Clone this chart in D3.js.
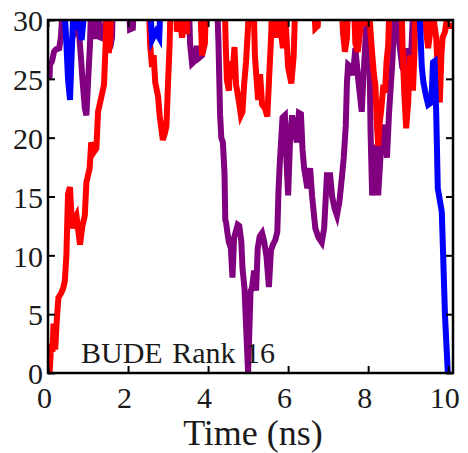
<!DOCTYPE html>
<html>
  <head>
    <meta charset="utf-8">
    <title>BUDE Rank 16</title>
    <script src="https://d3js.org/d3.v7.min.js"></script>
    <style>
      body { margin: 0; background: #fff; }
      text { font-family: "Liberation Serif", "Times New Roman", serif; fill: #1a1a1a; }
    </style>
  </head>
  <body>

<svg id="rank-chart"></svg>

<script>

// values (time in ns, rank); values above 30 leave the plot
let redTime = [0.04, 0.08, 0.11, 0.14, 0.18, 0.22, 0.26, 0.33, 0.38, 0.42, 0.46, 0.5, 0.55, 0.6, 0.65, 0.71, 0.76, 0.8, 0.86, 0.92, 0.96, 1.04, 1.08, 1.15, 1.21, 1.25, 1.33, 1.4, 1.44, 1.47, 1.52, 1.56, 1.6, 2.5, 2.55, 2.6, 2.64, 2.68, 2.75, 2.79, 2.87, 2.93, 2.96, 3.0, 3.04, 3.08, 3.2, 3.22, 3.28, 3.35, 3.42, 3.47, 3.5, 3.78, 3.85, 3.92, 3.97, 4.4, 4.44, 4.47, 4.52, 4.56, 4.6, 4.66, 4.7, 4.76, 4.82, 4.86, 4.9, 4.95, 5.0, 5.04, 5.12, 5.17, 5.2, 5.25, 5.3, 5.35, 5.42, 5.48, 5.52, 5.58, 5.62, 5.7, 5.75, 5.82, 5.87, 5.92, 6.0, 6.08, 6.14, 6.2, 6.6, 6.68, 6.74, 6.8, 7.3, 7.37, 7.42, 7.47, 7.52, 7.62, 7.68, 7.74, 7.8, 7.86, 7.9, 7.95, 8.02, 8.08, 8.14, 8.18, 8.22, 8.25, 8.28, 8.33, 8.38, 8.42, 8.46, 8.5, 8.56, 8.82, 8.86, 8.9, 8.95, 9.0, 9.04, 9.08, 9.12, 9.16, 9.2, 9.4, 9.45, 9.5, 9.55, 9.6, 9.62, 9.7, 9.76, 9.79, 9.83, 9.86, 9.92, 9.96, 10.0, 10.1];
let redRank = [0, 2.5, 1.8, 4.2, 2.0, 4.5, 6.4, 6.8, 7.2, 7.8, 10, 15.2, 15.8, 12.3, 13.0, 13.4, 12.0, 10.9, 12.5, 13.4, 16.2, 17.4, 19.6, 18.8, 19.1, 22.2, 23.4, 24.5, 28, 31, 27.2, 28.5, 34, 34, 28, 26, 27, 24.7, 23.5, 21.9, 19.8, 20.5, 21, 24.7, 28, 34, 34, 29, 30.5, 28.5, 30.5, 28.8, 34, 34, 27, 28, 34, 34, 28, 24.9, 24, 26.5, 25, 27.7, 24.5, 23.3, 21.9, 22.2, 24.5, 26.5, 29.5, 34, 34, 27, 25.5, 23.2, 25.4, 22.8, 22.5, 21.8, 24.7, 29, 34, 28.5, 30.5, 29, 27.6, 31, 26, 24.6, 27, 34, 34, 29.3, 29.5, 34, 34, 29, 27.3, 28.5, 34, 34, 28, 27.3, 29, 34, 31, 29.5, 31, 28, 25.5, 24.5, 21, 19.3, 21, 22.5, 24.5, 23.8, 26.5, 27.8, 34, 34, 27.6, 24, 20.8, 23, 27, 25.5, 24, 27.5, 34, 34, 29, 27.6, 29, 30.5, 30.5, 28.5, 24, 23, 27, 28.5, 29, 30, 29.5, 29.5];

let purpleTime = [0, 0.04, 0.05, 0.1, 0.15, 0.2, 0.28, 0.32, 0.36, 0.4, 0.6, 0.68, 0.76, 0.82, 0.86, 0.92, 0.96, 1.0, 1.05, 1.1, 1.15, 1.2, 1.26, 1.32, 1.4, 1.46, 1.55, 1.6, 1.64, 2.0, 2.05, 2.12, 2.18, 3.5, 3.55, 3.6, 3.66, 3.72, 3.78, 3.85, 3.9, 4.2, 4.26, 4.3, 4.33, 4.37, 4.41, 4.43, 4.45, 4.48, 4.52, 4.57, 4.61, 4.65, 4.7, 4.74, 4.78, 4.83, 4.86, 4.91, 5.0, 5.06, 5.1, 5.15, 5.2, 5.24, 5.29, 5.35, 5.4, 5.46, 5.52, 5.57, 5.62, 5.68, 5.73, 5.76, 5.79, 5.86, 5.92, 5.96, 6.0, 6.05, 6.1, 6.16, 6.22, 6.27, 6.32, 6.36, 6.4, 6.48, 6.55, 6.6, 6.68, 6.76, 6.84, 6.9, 6.97, 7.05, 7.1, 7.16, 7.22, 7.28, 7.34, 7.39, 7.44, 7.47, 7.5, 7.57, 7.62, 7.68, 7.76, 7.84, 7.88, 7.95, 8.0, 8.03, 8.06, 8.1, 8.16, 8.2, 8.25, 8.32, 8.4, 8.47, 8.52, 8.6, 8.66, 8.72, 8.78, 8.85, 8.95, 9.0, 9.06, 9.12, 9.18, 10.1];
let purpleRank = [25, 25.2, 26.2, 26.5, 27.3, 27.5, 27.6, 28.5, 30.5, 34, 34, 29, 29.5, 27, 25, 22.5, 21.9, 24.7, 28, 34, 29.5, 28.4, 30.5, 28.5, 28.4, 30.5, 27.6, 28.5, 34, 34, 29.2, 29.3, 34, 34, 28, 26.3, 26.5, 27.8, 26.8, 27, 34, 34, 28, 22, 20, 19.6, 17, 13, 12.8, 12, 11.1, 10.6, 8.1, 11.5, 12.1, 12.6, 12.5, 11.2, 8.9, 7.2, 0, 6.9, 7.3, 8.7, 7, 10.6, 11.6, 11.9, 11.2, 9.9, 7.3, 10.4, 10.9, 11.3, 12, 15.5, 17.7, 21.7, 21.9, 18, 15.1, 20, 21.9, 20.5, 19.6, 22.1, 22, 19, 17.4, 15.7, 17.4, 15, 12.3, 11.5, 11.1, 12.3, 16.8, 16.8, 15, 14, 13.4, 14.5, 16.5, 18.3, 21, 24.7, 26.2, 26, 25.3, 27.6, 24.7, 22.2, 25, 29.3, 30.5, 28, 20.5, 15.1, 16.2, 19.4, 15.1, 19.1, 21.1, 18.3, 22, 26.2, 30.5, 34, 28, 26, 25.3, 27.6, 26, 30.5, 34, 34];

let blueTime = [0, 0.3, 0.42, 0.46, 0.5, 0.55, 0.59, 0.63, 0.7, 0.78, 0.84, 0.9, 0.95, 2.5, 2.6, 2.7, 2.78, 2.84, 9.2, 9.3, 9.34, 9.38, 9.45, 9.5, 9.58, 9.62, 9.66, 9.7, 9.74, 9.84, 9.92, 9.99];
let blueRank = [34, 34, 30.5, 28, 25, 23.2, 27, 30.5, 29.5, 29.8, 28.3, 30.5, 34, 34, 28.3, 29, 28.5, 34, 34, 29.5, 26, 24.7, 23.5, 22.8, 23, 26.4, 26.5, 22.2, 15.7, 13.7, 4.9, 0];

let xTicks = [0, 2, 4, 6, 8, 10];
let yTicks = [0, 5, 10, 15, 20, 25, 30];

// configuration of svg/plot area
let config = {
  'svg': {},
  'margin': {},
  'plot': {}
};

config.svg.width = 468;
config.svg.height = 453;

config.margin.top = 20;
config.margin.right = 15;
config.margin.bottom = 80;
config.margin.left = 48;

config.plot.width = config.svg.width - config.margin.left - config.margin.right;
config.plot.height = config.svg.height - config.margin.top - config.margin.bottom;

let svg = d3.select('body').select('#rank-chart');
svg.attr('width', config.svg.width);
svg.attr('height', config.svg.height);

let plot = svg.append('g')
  .attr('id', 'plot')
  .attr('transform', translate(config.margin.left, config.margin.top));

// right edge sits a little past 10 ns
let x = d3.scaleLinear()
  .domain([0, 10.12])
  .range([0, config.plot.width]);

let y = d3.scaleLinear()
  .domain([0, 30])
  .range([config.plot.height, 0]);

// keep lines inside the frame
svg.append('defs').append('clipPath')
  .attr('id', 'plot-clip')
  .append('rect')
  .attr('width', config.plot.width)
  .attr('height', config.plot.height);

let line = d3.line()
  .x(d => x(d[0]))
  .y(d => y(d[1]));

let series = [
  {name: 'purple', color: '#800080', values: d3.zip(purpleTime, purpleRank)},
  {name: 'red', color: '#ff0000', values: d3.zip(redTime, redRank)},
  {name: 'blue', color: '#0000ff', values: d3.zip(blueTime, blueRank)}
];

let lines = plot.append('g').attr('clip-path', 'url(#plot-clip)');

lines.selectAll('path')
  .data(series)
  .enter()
  .append('path')
  .attr('fill', 'none')
  .attr('stroke', d => d.color)
  .attr('stroke-width', 6)
  .attr('stroke-linejoin', 'miter')
  .attr('d', d => line(d.values));

// axes, ticks point inward on all four sides
let xAxis = plot.append('g')
  .attr('transform', translate(0, config.plot.height))
  .call(d3.axisBottom(x).tickValues(xTicks).tickSize(-7).tickSizeOuter(0).tickPadding(14));

xAxis.selectAll('text').attr('dx', -4);

let yAxis = plot.append('g')
  .call(d3.axisLeft(y).tickValues(yTicks).tickSize(-7).tickSizeOuter(0).tickPadding(5));

yAxis.selectAll('text').attr('dy', '0.36em');

plot.append('g')
  .call(d3.axisTop(x).tickValues(xTicks).tickSize(-7).tickSizeOuter(0).tickFormat(''));

plot.append('g')
  .attr('transform', translate(config.plot.width, 0))
  .call(d3.axisRight(y).tickValues(yTicks).tickSize(-7).tickSizeOuter(0).tickFormat(''));

plot.selectAll('.domain').remove();
plot.selectAll('.tick line').attr('stroke', '#000').attr('stroke-width', 2);
plot.selectAll('.tick text')
  .style('font-family', '"Liberation Serif", "Times New Roman", serif')
  .style('font-size', '30px')
  .attr('fill', '#1a1a1a');

// frame
plot.append('rect')
  .attr('width', config.plot.width)
  .attr('height', config.plot.height)
  .attr('fill', 'none')
  .attr('stroke', '#000')
  .attr('stroke-width', 2.5);

// label inside the plot
plot.append('text')
  .attr('x', 33)
  .attr('y', config.plot.height - 10)
  .style('font-size', '30px')
  .style('word-spacing', '2px')
  .text('BUDE Rank 16');

// x axis title
svg.append('text')
  .attr('x', 253)
  .attr('y', 445)
  .attr('text-anchor', 'middle')
  .style('font-size', '36px')
  .text('Time (ns)');

// helper method to make translating easier
function translate(x, y) {
  return 'translate(' + x + ',' + y + ')';
}

</script>
</body>
</html>
